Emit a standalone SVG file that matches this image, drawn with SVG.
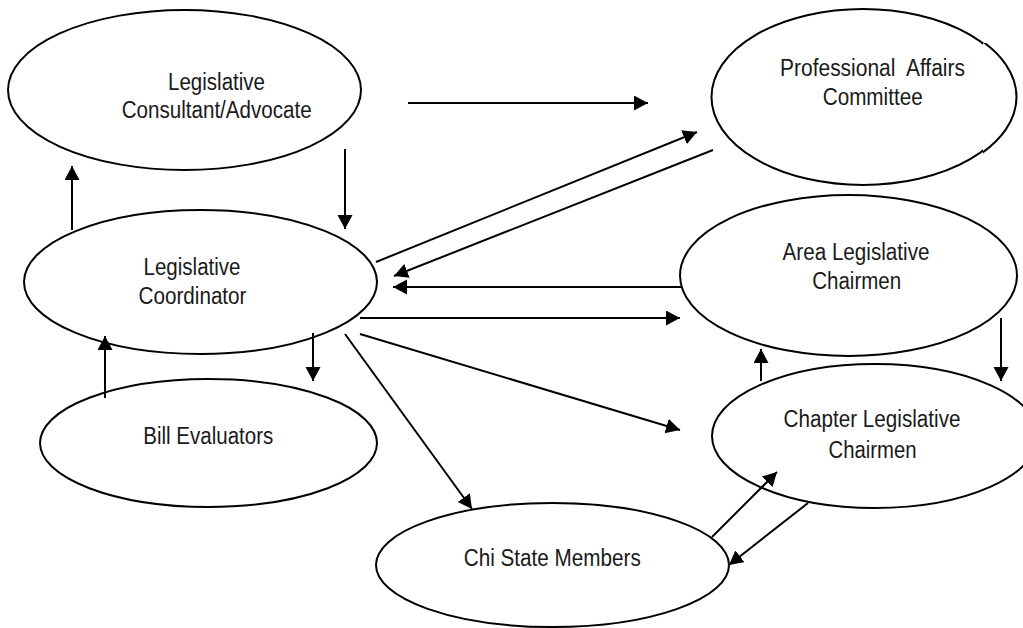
<svg xmlns="http://www.w3.org/2000/svg" width="1023" height="628" viewBox="0 0 1023 628">
<style>
  .node { fill: none; stroke: #000; stroke-width: 2; }
  .lbl { font-family: "Liberation Sans", Arial, sans-serif; font-size: 23px; fill: #1a1a1a; text-anchor: middle; }
  .edge { stroke: #000; stroke-width: 2; fill: none; marker-end: url(#ah); }
</style>
<defs>
  <marker id="ah" markerUnits="userSpaceOnUse" markerWidth="16" markerHeight="16" refX="14" refY="7.5" orient="auto">
    <path d="M0,0 L14,7.5 L0,15 Z" fill="#000"/>
  </marker>
  <clipPath id="paMain">
    <path d="M0,0H1023V628H0Z M983,43H1023V154H983Z" clip-rule="evenodd"/>
  </clipPath>
  <clipPath id="paSide">
    <rect x="983" y="43" width="40" height="111"/>
  </clipPath>
</defs>
<rect width="1023" height="628" fill="#fff"/>

<g id="consultant">
  <ellipse class="node" cx="184.5" cy="90" rx="176.5" ry="80"/>
  <text class="lbl" x="216.5" y="89.5" textLength="97" lengthAdjust="spacingAndGlyphs">Legislative</text>
  <text class="lbl" x="216.7" y="117.7" textLength="190" lengthAdjust="spacingAndGlyphs">Consultant/Advocate</text>
</g>

<g id="professional-affairs">
  <ellipse class="node" cx="863" cy="97" rx="151.5" ry="88" clip-path="url(#paMain)"/>
  <g clip-path="url(#paSide)">
    <ellipse class="node" cx="865" cy="97" rx="151.5" ry="88"/>
  </g>
  <text class="lbl" x="872.5" y="76" textLength="185" lengthAdjust="spacingAndGlyphs" xml:space="preserve">Professional  Affairs</text>
  <text class="lbl" x="872.7" y="105" textLength="100" lengthAdjust="spacingAndGlyphs">Committee</text>
</g>

<g id="coordinator">
  <ellipse class="node" cx="200.5" cy="282" rx="176.5" ry="72"/>
  <text class="lbl" x="192" y="275" textLength="97" lengthAdjust="spacingAndGlyphs">Legislative</text>
  <text class="lbl" x="192.5" y="304" textLength="108" lengthAdjust="spacingAndGlyphs">Coordinator</text>
</g>

<g id="bill-evaluators">
  <ellipse class="node" cx="208.5" cy="443" rx="168.5" ry="64"/>
  <text class="lbl" x="208.3" y="444" textLength="130" lengthAdjust="spacingAndGlyphs">Bill Evaluators</text>
</g>

<g id="area-chairmen">
  <ellipse class="node" cx="848.5" cy="275.5" rx="168.5" ry="80.5"/>
  <text class="lbl" x="856" y="260" textLength="147" lengthAdjust="spacingAndGlyphs">Area Legislative</text>
  <text class="lbl" x="856.7" y="289.3" textLength="89" lengthAdjust="spacingAndGlyphs">Chairmen</text>
</g>

<g id="chapter-chairmen">
  <ellipse class="node" cx="875" cy="436" rx="163" ry="72"/>
  <text class="lbl" x="872" y="427" textLength="177" lengthAdjust="spacingAndGlyphs">Chapter Legislative</text>
  <text class="lbl" x="872.5" y="457.5" textLength="88" lengthAdjust="spacingAndGlyphs">Chairmen</text>
</g>

<g id="chi-state-members">
  <ellipse class="node" cx="552.5" cy="565" rx="176.5" ry="62"/>
  <text class="lbl" x="552.3" y="566" textLength="177" lengthAdjust="spacingAndGlyphs">Chi State Members</text>
</g>

<g id="connectors">
  <line class="edge" x1="408" y1="103" x2="648" y2="103"/>
  <line class="edge" x1="345" y1="149" x2="345" y2="229"/>
  <line class="edge" x1="72" y1="230" x2="72" y2="166"/>
  <line class="edge" x1="376" y1="262" x2="697" y2="132"/>
  <line class="edge" x1="713" y1="150" x2="394" y2="276"/>
  <line class="edge" x1="681" y1="287" x2="393" y2="287"/>
  <line class="edge" x1="360" y1="318" x2="680" y2="318"/>
  <line class="edge" x1="360" y1="334" x2="680" y2="430"/>
  <line class="edge" x1="345" y1="334" x2="472" y2="509"/>
  <line class="edge" x1="313" y1="333" x2="313" y2="381"/>
  <line class="edge" x1="105" y1="398" x2="105" y2="336"/>
  <line class="edge" x1="761" y1="381" x2="761" y2="349"/>
  <line class="edge" x1="1001" y1="318" x2="1001" y2="381"/>
  <line class="edge" x1="712" y1="537" x2="777" y2="472"/>
  <line class="edge" x1="808" y1="503" x2="729" y2="565"/>
</g>
</svg>
